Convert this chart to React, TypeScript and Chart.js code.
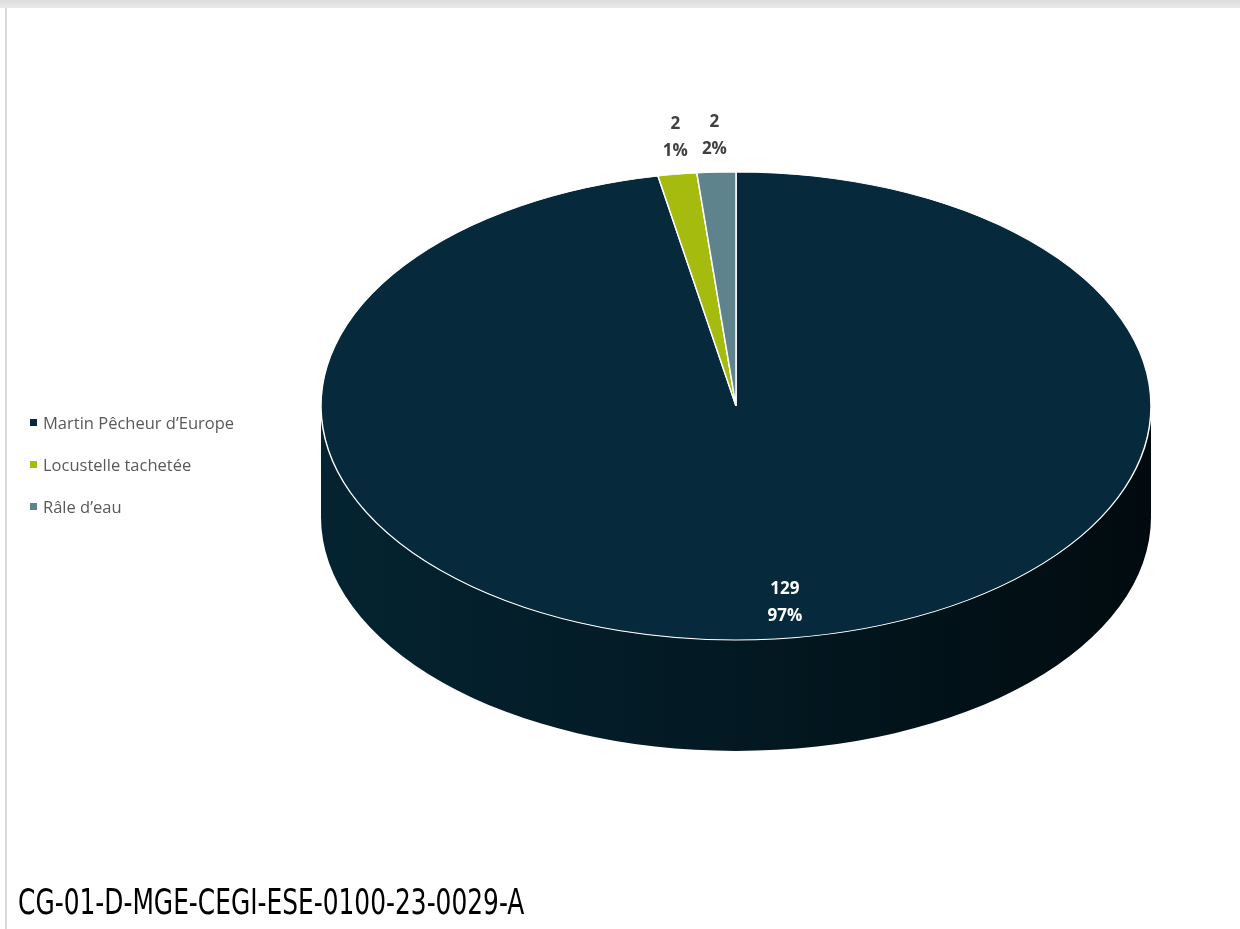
import React, { useEffect, useRef } from "react";
import { Chart, registerables } from "chart.js";

Chart.register(...registerables);

// ---- Data ----
const categories = ["Martin Pêcheur d’Europe", "Locustelle tachetée", "Râle d’eau"];
const counts = [129, 2, 2];
const percentLabels = ["97%", "1%", "2%"];
const sliceColors = ["#062a3b", "#a5bb0d", "#5e838d"];
const footerCode = "CG-01-D-MGE-CEGI-ESE-0100-23-0029-A";

// ---- Geometry of the 3D projection (screen pixels) ----
const CX = 736;
const CY = 406;
const RX = 415;
const RY = 234;
const DEPTH = 111;

const pie3d = {
  id: "pie3d",
  beforeDatasetsDraw(chart: any) {
    const ctx = chart.ctx as CanvasRenderingContext2D;
    const arc = chart.getDatasetMeta(0).data[0];
    const { x, y, outerRadius } = arc.getProps(["x", "y", "outerRadius"], true);
    // side wall
    ctx.save();
    const g = ctx.createLinearGradient(CX - RX, 0, CX + RX, 0);
    g.addColorStop(0, "#042330");
    g.addColorStop(0.45, "#031a24");
    g.addColorStop(1, "#010b0f");
    ctx.beginPath();
    ctx.ellipse(CX, CY + DEPTH, RX, RY, 0, 0, Math.PI, false);
    ctx.lineTo(CX - RX, CY);
    ctx.ellipse(CX, CY, RX, RY, 0, Math.PI, 0, true);
    ctx.closePath();
    ctx.fillStyle = g;
    ctx.fill();
    ctx.restore();
    // flatten the top face
    ctx.save();
    ctx.translate(CX, CY);
    ctx.scale(RX / outerRadius, RY / outerRadius);
    ctx.translate(-x, -y);
  },
  afterDatasetsDraw(chart: any) {
    const ctx = chart.ctx as CanvasRenderingContext2D;
    ctx.restore();
    const meta = chart.getDatasetMeta(0);
    ctx.save();
    ctx.textAlign = "center";
    ctx.textBaseline = "middle";
    ctx.font = "bold 17px 'Open Sans', 'Noto Sans', sans-serif";
    meta.data.forEach((el: any, i: number) => {
      const { startAngle, endAngle } = el.getProps(["startAngle", "endAngle"], true);
      const mid = (startAngle + endAngle) / 2;
      const big = counts[i] > 10;
      let px: number, py: number;
      if (big) {
        px = CX + RX * Math.cos(mid) * 1.25;
        py = CY + RY * Math.sin(mid) * 0.83 + 3;
        ctx.fillStyle = "#ffffff";
      } else {
        px = CX + RX * Math.cos(mid) - 2;
        py = CY + RY * Math.sin(mid) - 37;
        ctx.fillStyle = "#404040";
      }
      ctx.fillText(String(counts[i]), px, py - 13);
      ctx.fillText(percentLabels[i], px, py + 14);
    });
    ctx.restore();
  },
};

export default function App() {
  const canvasRef = useRef<HTMLCanvasElement | null>(null);

  useEffect(() => {
    if (!canvasRef.current) return;
    const chart = new Chart(canvasRef.current, {
      type: "pie",
      data: {
        labels: categories,
        datasets: [
          {
            data: counts,
            backgroundColor: sliceColors,
            borderColor: "#ffffff",
            borderWidth: 1.5,
          },
        ],
      },
      options: {
        responsive: false,
        animation: false,
        layout: { padding: { left: 321, right: 89, top: 0, bottom: 99 } },
        plugins: {
          legend: { display: false },
          tooltip: { enabled: false },
        },
      },
      plugins: [pie3d],
    } as any);
    return () => chart.destroy();
  }, []);

  return (
    <div
      style={{
        position: "absolute",
        left: 0,
        top: 0,
        width: 1240,
        height: 929,
        background: "#ffffff",
        overflow: "hidden",
      }}
    >
      <div
        style={{
          position: "absolute",
          left: 0,
          top: 0,
          width: 1240,
          height: 8,
          background: "linear-gradient(#dcdcdc, #e9e9e9)",
        }}
      />
      <div
        style={{
          position: "absolute",
          left: 5,
          top: 8,
          width: 2,
          height: 921,
          background: "#d9d9d9",
        }}
      />
      <canvas
        ref={canvasRef}
        width={1240}
        height={929}
        style={{ position: "absolute", left: 0, top: 0 }}
      />
      <div
        style={{
          position: "absolute",
          left: 30,
          top: 410,
          fontFamily: "'Open Sans', 'Noto Sans', sans-serif",
          fontSize: 16.5,
          color: "#595959",
        }}
      >
        {categories.map((c, i) => (
          <div
            key={c}
            style={{ display: "flex", alignItems: "center", height: 42, marginTop: i === 0 ? -9 : 0 }}
          >
            <span
              style={{
                display: "inline-block",
                width: 7,
                height: 7,
                background: sliceColors[i],
                marginRight: 6,
              }}
            />
            <span>{c}</span>
          </div>
        ))}
      </div>
      <div
        style={{
          position: "absolute",
          left: 18,
          top: 885,
          fontFamily: "'DejaVu Sans Condensed', 'DejaVu Sans', sans-serif",
          fontSize: 35,
          lineHeight: 1,
          color: "#000000",
          whiteSpace: "nowrap",
          transform: "scaleX(0.79)",
          transformOrigin: "left top",
        }}
      >
        {footerCode}
      </div>
    </div>
  );
}
